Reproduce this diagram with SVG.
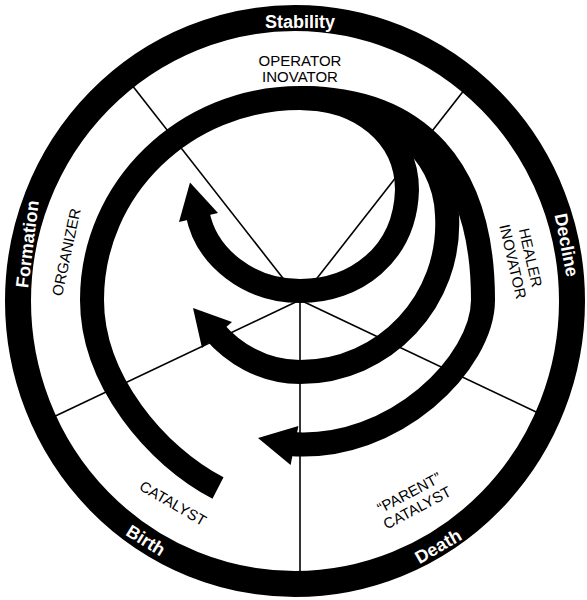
<svg xmlns="http://www.w3.org/2000/svg" width="587" height="600" viewBox="0 0 587 600">
<style>
.radial{stroke:#000;stroke-width:1.6;fill:none}
.arm{fill:none;stroke:#000;stroke-width:24;stroke-linecap:butt;stroke-linejoin:round}
.head{fill:#000}
.ring{fill:none;stroke:#000;stroke-width:26}
.rl{font-family:"Liberation Sans",Arial,sans-serif;font-weight:bold;font-size:18px;fill:#fff;text-anchor:middle}
.il{font-family:"Liberation Sans",Arial,sans-serif;font-size:15px;fill:#000;text-anchor:middle}
</style>
<rect width="587" height="600" fill="#fff"/>
<g id="sector-lines">
<line class="radial" x1="300" y1="300" x2="128" y2="80"/>
<line class="radial" x1="300" y1="300" x2="472" y2="80"/>
<line class="radial" x1="300" y1="300" x2="47" y2="420"/>
<line class="radial" x1="300" y1="300" x2="553" y2="420"/>
<line class="radial" x1="300" y1="300" x2="300" y2="585"/>
</g>
<g id="connectors">
<g id="spiral-outer">
<path class="arm" d="M218,488 C156,456 92,380 92,300 C92,188.5 185,98 300,98 C419,98 483,169 483,300 C483,362 395,452 290,444"/>
<polygon class="head" points="258,438 298.4,425.9 290.6,465.1"/>
</g>
<g id="spiral-middle">
<path class="arm" d="M300,98 C385,98 445,150 447,215 C452,300 385,372 300,372 C262,372 232,352 214,331"/>
<polygon class="head" points="193,308 232,322 202,348"/>
</g>
<g id="spiral-inner">
<path class="arm" d="M300,98 C360,98 407,135 407,190 C405,255 355,291 300,291 C250,291 206,258 197.5,213"/>
<polygon class="head" points="190,182.5 218,213 179,222"/>
</g>
</g>
<g id="ring">
<ellipse class="ring" cx="295" cy="301" rx="277" ry="283"/>
</g>
<g id="stage-stability"><text class="rl" x="300" y="28">Stability</text></g>
<g id="stage-decline"><text class="rl" transform="translate(567,245) rotate(79)" x="0" y="6.5">Decline</text></g>
<g id="stage-death"><text class="rl" transform="translate(438,546) rotate(-30)" x="0" y="6.5">Death</text></g>
<g id="stage-birth"><text class="rl" transform="translate(146,540) rotate(32)" x="0" y="6.5">Birth</text></g>
<g id="stage-formation"><text class="rl" transform="translate(27,244) rotate(-83)" x="0" y="6.5">Formation</text></g>
<g id="role-operator">
<text class="il" x="300" y="66">OPERATOR</text>
<text class="il" x="300" y="81.5">INOVATOR</text>
</g>
<g id="role-healer" transform="translate(522,259.5) rotate(77)">
<text class="il" x="0" y="-3.5">HEALER</text>
<text class="il" x="0" y="14.5">INOVATOR</text>
</g>
<g id="role-parent" transform="translate(413,500) rotate(-28)">
<text class="il" x="0" y="-3">“PARENT”</text>
<text class="il" x="0" y="14">CATALYST</text>
</g>
<g id="role-catalyst"><text class="il" transform="translate(173,503) rotate(30)" x="0" y="5.5">CATALYST</text></g>
<g id="role-organizer"><text class="il" transform="translate(66,252) rotate(-78)" x="0" y="5.5">ORGANIZER</text></g>
</svg>
